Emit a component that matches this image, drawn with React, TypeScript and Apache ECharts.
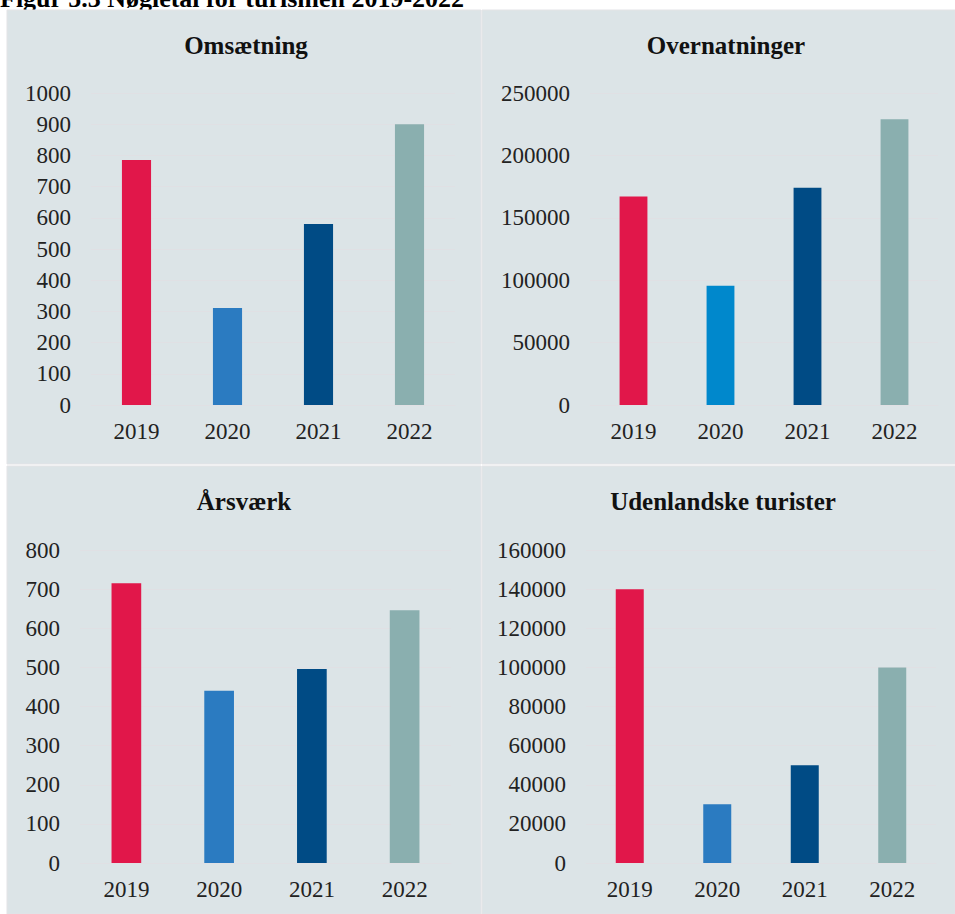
import React, { useEffect, useRef } from "react";
import * as echarts from "echarts";

const years = ["2019", "2020", "2021", "2022"];
const omsaetning = [785, 311, 580, 900];
const overnatninger = [167000, 95500, 174000, 229000];
const aarsvaerk = [715, 440, 496, 646];
const udenlandske = [140000, 30000, 50000, 100000];

const panelTitles = ["Omsætning", "Overnatninger", "Årsværk", "Udenlandske turister"];
const figureTitle = "Figur 5.3 Nøgletal for turismen 2019-2022";

const colorsA = ["#e1174a", "#2b7bc1", "#004b85", "#8aafaf"];
const colorsB = ["#e1174a", "#0088cc", "#004b85", "#8aafaf"];

const FONT = '"Liberation Serif", "Times New Roman", serif';
const BG = "#dce4e7";
const GRID = "#e0e0e4";

export default function App() {
  const ref = useRef<HTMLDivElement>(null);
  useEffect(() => {
    if (!ref.current) return;
    const chart = echarts.init(ref.current, null, { renderer: "svg" });

    const grids = [
      { left: 91, top: 93, width: 364, height: 312 },
      { left: 590, top: 93, width: 348, height: 312 },
      { left: 80, top: 550, width: 371, height: 313 },
      { left: 586, top: 550, width: 350, height: 313 },
    ];
    const yCfg = [
      { max: 1000, interval: 100 },
      { max: 250000, interval: 50000 },
      { max: 800, interval: 100 },
      { max: 160000, interval: 20000 },
    ];
    const datas = [omsaetning, overnatninger, aarsvaerk, udenlandske];
    const palettes = [colorsA, colorsB, colorsA, colorsA];

    const xAxis = grids.map((_, i) => ({
      type: "category" as const,
      gridIndex: i,
      data: years,
      axisLine: { show: true, lineStyle: { color: GRID, width: 1 } },
      axisTick: { show: false },
      axisLabel: { color: "#222", fontFamily: FONT, fontSize: 23, margin: 15 },
    }));
    const yAxis = grids.map((_, i) => ({
      type: "value" as const,
      gridIndex: i,
      min: 0,
      max: yCfg[i].max,
      interval: yCfg[i].interval,
      axisLine: { show: false },
      axisTick: { show: false },
      splitLine: { show: true, lineStyle: { color: GRID, width: 1 } },
      axisLabel: {
        color: "#222",
        fontFamily: FONT,
        fontSize: 23,
        margin: 20,
        formatter: (v: number) => String(v),
      },
    }));
    const series = datas.map((d, i) => ({
      type: "bar" as const,
      xAxisIndex: i,
      yAxisIndex: i,
      barWidth: "32%",
      data: d.map((v, j) => ({ value: v, itemStyle: { color: palettes[i][j] } })),
    }));

    const panels = [
      { x: 7, y: 10, w: 474, h: 454 },
      { x: 482, y: 10, w: 473, h: 454 },
      { x: 7, y: 466, w: 474, h: 448 },
      { x: 482, y: 466, w: 473, h: 448 },
    ];
    const titlePos = [
      { x: 246, y: 45 },
      { x: 726, y: 45 },
      { x: 244, y: 501 },
      { x: 723, y: 501 },
    ];

    const graphic: any[] = [
      {
        type: "text",
        z: -20,
        style: {
          text: figureTitle,
          x: 0,
          y: 11,
          verticalAlign: "bottom",
          align: "left",
          font: `bold 26px ${FONT}`,
          fill: "#000",
        },
      },
      ...panels.map((p) => ({
        type: "rect",
        z: -10,
        shape: { x: p.x, y: p.y, width: p.w, height: p.h },
        style: { fill: BG, stroke: "#e3e3e6", lineWidth: 1 },
      })),
      ...titlePos.map((t, i) => ({
        type: "text",
        z: 10,
        style: {
          text: panelTitles[i],
          x: t.x,
          y: t.y,
          align: "center",
          verticalAlign: "middle",
          font: `bold 25px ${FONT}`,
          fill: "#111",
        },
      })),
    ];

    chart.setOption({
      animation: false,
      backgroundColor: "#ffffff",
      grid: grids.map((g) => ({ ...g, containLabel: false })),
      xAxis,
      yAxis,
      series,
      graphic,
    });
    return () => chart.dispose();
  }, []);
  return (
    <div
      ref={ref}
      style={{ position: "absolute", left: 0, top: 0, width: 955, height: 914 }}
    />
  );
}
